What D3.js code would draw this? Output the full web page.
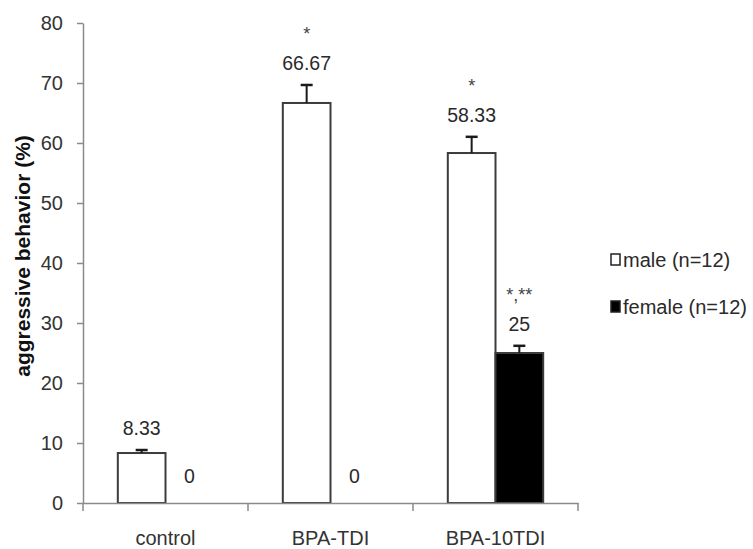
<!DOCTYPE html>
<html>
<head>
<meta charset="utf-8">
<script src="https://cdn.jsdelivr.net/npm/d3@7"></script>
<style>
  body { margin: 0; background: #fff; }
  svg { display: block; font-family: "Liberation Sans", Arial, sans-serif; }
</style>
</head>
<body>
<svg id="chart" width="753" height="549"></svg>
<script>
// data
const categories = ["control", "BPA-TDI", "BPA-10TDI"];
const groups = ["male (n=12)", "female (n=12)"];
const maleValues = [8.33, 66.67, 58.33];
const femaleValues = [0, 0, 25];
const maleErrors = [0.5, 3.0, 2.7];
const femaleErrors = [0, 0, 1.2];
const maleSig = ["", "*", "*"];
const femaleSig = ["", "", "*,**"];
const yTicks = [0, 10, 20, 30, 40, 50, 60, 70, 80];

(() => {
    const svg = d3.select("#chart"),
        margin = { top: 23, left: 83 },
        plotWidth = 495,
        plotHeight = 480;

    const fills = { "male (n=12)": "#ffffff", "female (n=12)": "#000000" };

    const rows = categories.map((c, i) => ({
        category: c,
        bars: [
            { group: groups[0], value: maleValues[i], err: maleErrors[i], sig: maleSig[i] },
            { group: groups[1], value: femaleValues[i], err: femaleErrors[i], sig: femaleSig[i] }
        ]
    }));

    const x0 = d3.scaleBand()
        .domain(categories)
        .range([margin.left, margin.left + plotWidth])
        .padding(0);

    const x1 = d3.scaleBand()
        .domain(groups)
        .range([0, x0.bandwidth()])
        .paddingInner(0)
        .paddingOuter(0.73);

    const y = d3.scaleLinear()
        .domain([0, 80])
        .range([margin.top + plotHeight, margin.top]);

    // y axis
    const yAxis = svg.append("g")
        .attr("transform", `translate(${margin.left},0)`)
        .call(d3.axisLeft(y).tickValues(yTicks).tickSize(6).tickPadding(14).tickSizeOuter(0));
    yAxis.select(".domain").attr("stroke", "#8a8a8a").attr("stroke-width", 1.5);
    yAxis.selectAll(".tick line").attr("stroke", "#8a8a8a").attr("stroke-width", 1.5);
    yAxis.selectAll(".tick text")
        .attr("fill", "#333")
        .style("font-size", "20px")
        .style("font-family", "Liberation Sans, Arial, sans-serif");

    // bars
    const groupsSel = svg.selectAll(".cat")
        .data(rows)
        .enter()
        .append("g")
        .attr("class", "cat")
        .attr("transform", d => `translate(${x0(d.category)},0)`);

    const bar = groupsSel.selectAll(".bar")
        .data(d => d.bars)
        .enter()
        .append("g")
        .attr("class", "bar");

    bar.filter(d => d.value > 0)
        .append("rect")
        .attr("x", d => x1(d.group))
        .attr("y", d => y(d.value))
        .attr("width", x1.bandwidth())
        .attr("height", d => y(0) - y(d.value))
        .attr("fill", d => fills[d.group])
        .attr("stroke", "#3c3c3c")
        .attr("stroke-width", 2);

    // error bars (upper only)
    const eb = bar.filter(d => d.err > 0);
    eb.append("line")
        .attr("x1", d => x1(d.group) + x1.bandwidth() / 2)
        .attr("x2", d => x1(d.group) + x1.bandwidth() / 2)
        .attr("y1", d => y(d.value))
        .attr("y2", d => y(d.value + d.err))
        .attr("stroke", "#1a1a1a")
        .attr("stroke-width", 2);
    eb.append("line")
        .attr("x1", d => x1(d.group) + x1.bandwidth() / 2 - 6)
        .attr("x2", d => x1(d.group) + x1.bandwidth() / 2 + 6)
        .attr("y1", d => y(d.value + d.err))
        .attr("y2", d => y(d.value + d.err))
        .attr("stroke", "#1a1a1a")
        .attr("stroke-width", 2.5);

    // value labels
    const labelY = d => d.value > 0 ? y(d.value + d.err) - 15 : y(0) - 20;
    bar.append("text")
        .attr("x", d => x1(d.group) + x1.bandwidth() / 2)
        .attr("y", labelY)
        .attr("text-anchor", "middle")
        .attr("fill", "#2a2a2a")
        .style("font-size", "19.5px")
        .text(d => d.value === 0 ? "0" : String(d.value));

    bar.filter(d => d.sig)
        .append("text")
        .attr("x", d => x1(d.group) + x1.bandwidth() / 2)
        .attr("y", d => labelY(d) - 30)
        .attr("text-anchor", "middle")
        .attr("fill", "#444")
        .style("font-size", "18px")
        .text(d => d.sig);

    // x axis
    const xAxis = svg.append("g")
        .attr("transform", `translate(0,${y(0)})`)
        .call(d3.axisBottom(x0).tickSize(0).tickPadding(0).tickFormat(""));
    xAxis.select(".domain").attr("stroke", "#8a8a8a").attr("stroke-width", 1.5);
    xAxis.selectAll(".tick").remove();

    const bounds = [margin.left].concat(categories.map(c => x0(c) + x0.bandwidth()));
    xAxis.selectAll(".sep")
        .data(bounds)
        .enter()
        .append("line")
        .attr("x1", d => d)
        .attr("x2", d => d)
        .attr("y1", 0)
        .attr("y2", 8)
        .attr("stroke", "#8a8a8a")
        .attr("stroke-width", 1.5);

    svg.selectAll(".catlabel")
        .data(categories)
        .enter()
        .append("text")
        .attr("class", "catlabel")
        .attr("x", d => x0(d) + x0.bandwidth() / 2)
        .attr("y", 545)
        .attr("text-anchor", "middle")
        .attr("fill", "#333")
        .style("font-size", "20px")
        .text(d => d);

    // y axis title
    svg.append("text")
        .attr("transform", `translate(22,256) rotate(-90)`)
        .attr("text-anchor", "middle")
        .attr("dominant-baseline", "central")
        .attr("fill", "#111")
        .style("font-size", "21px")
        .style("font-weight", "bold")
        .text("aggressive behavior (%)");

    // legend
    const legend = svg.selectAll(".legend")
        .data(groups)
        .enter()
        .append("g")
        .attr("class", "legend")
        .attr("transform", (d, i) => `translate(611,${260 + i * 47})`);

    legend.append("rect")
        .attr("x", 0)
        .attr("y", -6)
        .attr("width", 9)
        .attr("height", 11)
        .attr("fill", d => fills[d])
        .attr("stroke", "#222")
        .attr("stroke-width", 1.5);

    legend.append("text")
        .attr("x", 12)
        .attr("y", 0)
        .attr("dy", "0.35em")
        .attr("fill", "#2a2a2a")
        .style("font-size", "20px")
        .text(d => d);
})();
</script>
</body>
</html>
